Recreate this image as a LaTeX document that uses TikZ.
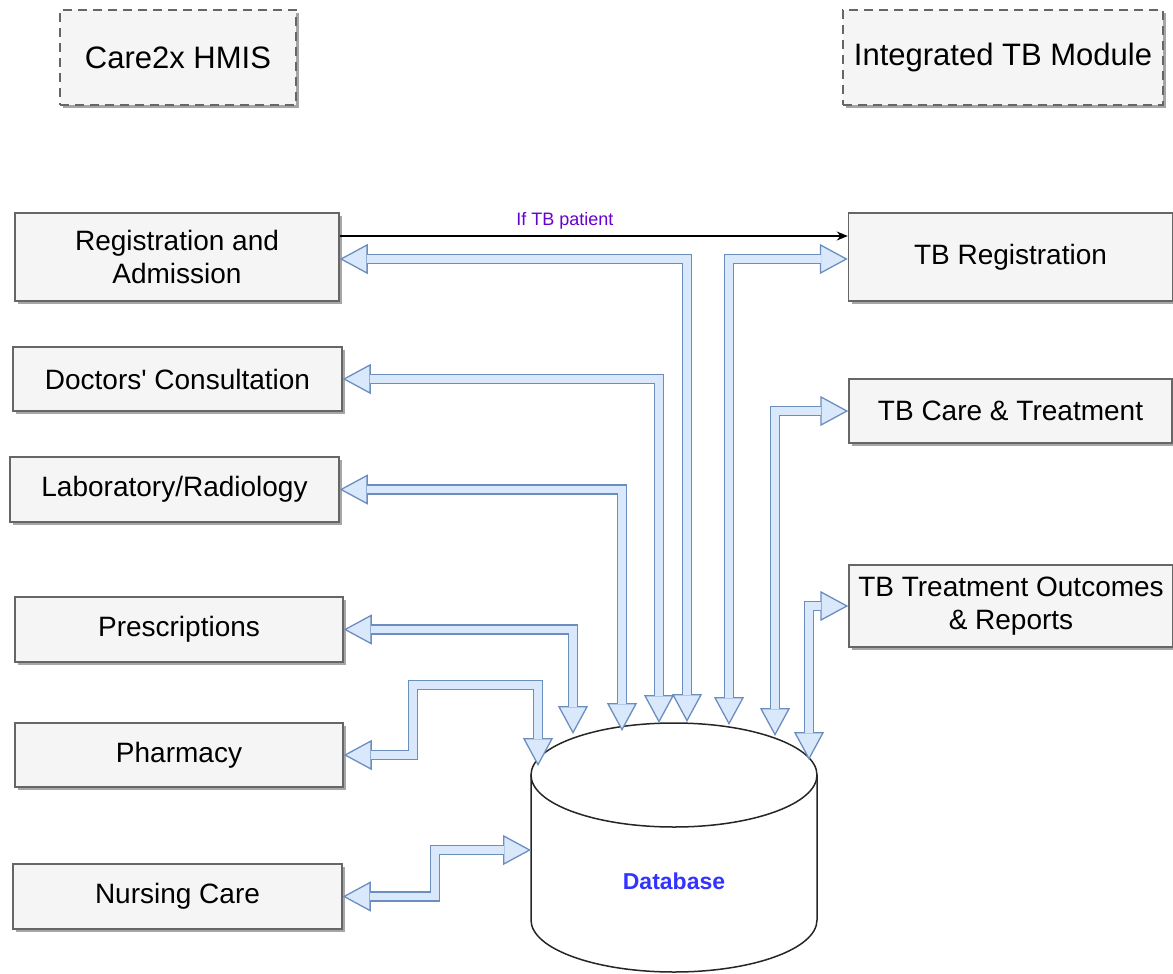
\documentclass[tikz,border=0pt]{standalone}
\usepackage{fontspec}
\setmainfont{Liberation Sans}
\usetikzlibrary{arrows.meta,shadows,calc}
\definecolor{fstroke}{HTML}{6C8EBF}
\definecolor{ffill}{HTML}{DAE8FC}
\definecolor{bstroke}{HTML}{666666}
\definecolor{bfill}{HTML}{F5F5F5}
\definecolor{lblpurple}{HTML}{6600CC}
\definecolor{dbblue}{HTML}{3333FF}
\tikzset{
  box/.style={draw=bstroke, fill=bfill, line width=1.5pt, align=center, inner sep=0pt,
    font=\fontsize{28}{33}\selectfont,
    drop shadow={shadow xshift=3pt, shadow yshift=-3pt, fill=black, opacity=0.35}},
  titlebox/.style={box, dash pattern=on 9pt off 6pt, line width=2pt, font=\fontsize{31}{36}\selectfont},
  fhead/.style={draw=fstroke, line width=1.3pt,
    {Triangle[open,fill=ffill,length=28pt,width=30pt]}-{Triangle[open,fill=ffill,length=28pt,width=30pt]}},
  fshaft/.style={draw=fstroke, line width=1.3pt, double=ffill, double distance=7.6pt,
    shorten <=27pt, shorten >=27pt},
}
\newcommand\flexconn[1]{\draw[fhead] #1; \draw[fshaft] #1;}
\begin{document}
\begin{tikzpicture}[x=1pt,y=-1pt]
\useasboundingbox (0,0) rectangle (1173,974);
% title boxes
\node[titlebox, minimum width=236pt, minimum height=95pt] (hmis) at (178,57.5) {Care2x HMIS};
\node[titlebox, minimum width=320pt, minimum height=95pt] (tbmod) at (1003,57.5) {Integrated TB Module};
% left modules
\node[box, minimum width=324pt, minimum height=88pt] (reg) at (177,257) {Registration and\\Admission};
\node[box, minimum width=329pt, minimum height=64pt] (doc) at (177.5,379) {Doctors\textquotesingle{} Consultation};
\node[box, minimum width=329pt, minimum height=65pt] (lab) at (174.5,489.5) {Laboratory/Radiology};
\node[box, minimum width=328pt, minimum height=65pt] (presc) at (179,629.5) {Prescriptions};
\node[box, minimum width=328pt, minimum height=64pt] (pharm) at (179,755) {Pharmacy};
\node[box, minimum width=329pt, minimum height=65pt] (nurse) at (177.5,896.5) {Nursing Care};
% right modules
\node[box, minimum width=324pt, minimum height=88pt] (tbreg) at (1010.5,257) {TB Registration};
\node[box, minimum width=323pt, minimum height=64pt] (tbcare) at (1010.5,411) {TB Care \& Treatment};
\node[box, minimum width=324pt, minimum height=82pt, font=\fontsize{28}{32.5}\selectfont] (tbout) at (1011,606) {TB Treatment Outcomes\\\& Reports};
% database
\path[fill=white, draw=black!85, line width=1.5pt] (531,775) -- (531,920)
  arc[start angle=180, end angle=360, x radius=143pt, y radius=52pt] -- (817,775);
\draw[fill=white, draw=black!85, line width=1.5pt] (674,775) ellipse [x radius=143pt, y radius=52pt];
\node[text=dbblue, font=\bfseries\fontsize{23}{26}\selectfont] (db) at (674,881) {Database};
% attachment points on database
\coordinate (dReg) at (687,722);
\coordinate (dTbreg) at (729,725);
\coordinate (dDoc) at (659,723);
\coordinate (dLab) at (622,731);
\coordinate (dPresc) at (573,734);
\coordinate (dPharm) at (538,766);
\coordinate (dNurse) at (531,850);
\coordinate (dCare) at (775,736);
\coordinate (dOut) at (809,760);
% black arrow
\draw[line width=1.2pt, -{Stealth[length=11pt,width=9pt]}] ($(reg.east)+(0,-21)$) -- ($(tbreg.west)+(0,-21)$)
  node[pos=0.443, anchor=base, yshift=11pt, text=lblpurple, font=\fontsize{18}{20}\selectfont] (lbl) {If TB patient};
% flex connectors
\flexconn{($(reg.east)+(0,2)$) -| (dReg)}
\flexconn{(dTbreg) |- ($(tbreg.west)+(0,2)$)}
\flexconn{(doc.east) -| (dDoc)}
\flexconn{(lab.east) -| (dLab)}
\flexconn{(presc.east) -| (dPresc)}
\flexconn{(pharm.east) -| (413,685) -| (dPharm)}
\flexconn{(nurse.east) -| (435,850) -- (dNurse)}
\flexconn{(dCare) |- (tbcare.west)}
\flexconn{(dOut) |- (tbout.west)}
\end{tikzpicture}
\end{document}
